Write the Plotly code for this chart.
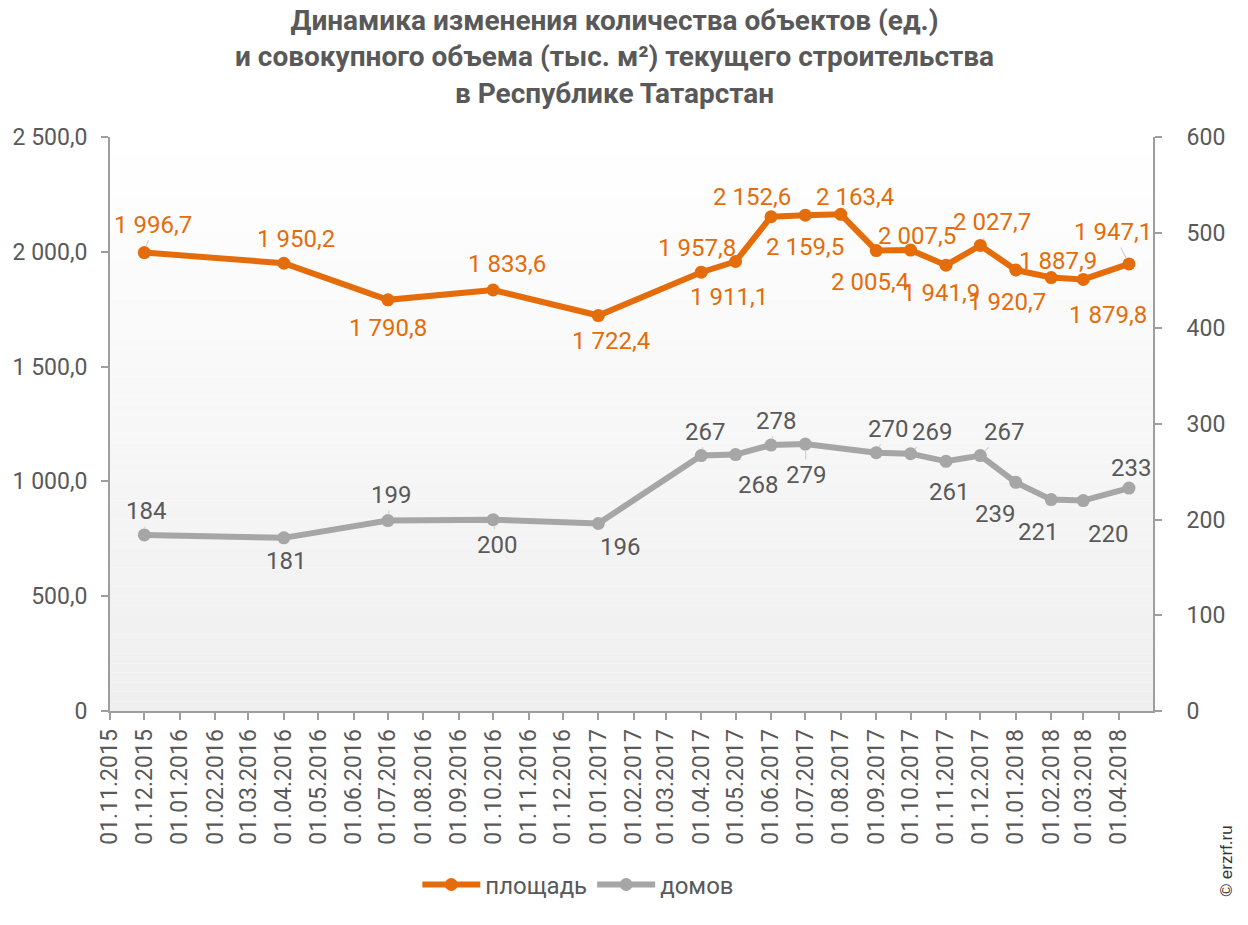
import plotly.graph_objects as go

# ---------------- data ----------------
dates = ["2015-12-01", "2016-04-01", "2016-07-01", "2016-10-01", "2017-01-01",
         "2017-04-01", "2017-05-01", "2017-06-01", "2017-07-01", "2017-08-01",
         "2017-09-01", "2017-10-01", "2017-11-01", "2017-12-01", "2018-01-01",
         "2018-02-01", "2018-03-01", "2018-04-10"]
area = [1996.7, 1950.2, 1790.8, 1833.6, 1722.4, 1911.1, 1957.8, 2152.6, 2159.5,
        2163.4, 2005.4, 2007.5, 1941.9, 2027.7, 1920.7, 1887.9, 1879.8, 1947.1]
houses = [184, 181, 199, 200, 196, 267, 268, 278, 279, None, 270, 269, 261, 267,
          239, 221, 220, 233]

x_tick_vals = ["2015-11-01", "2015-12-01", "2016-01-01", "2016-02-01", "2016-03-01",
               "2016-04-01", "2016-05-01", "2016-06-01", "2016-07-01", "2016-08-01",
               "2016-09-01", "2016-10-01", "2016-11-01", "2016-12-01", "2017-01-01",
               "2017-02-01", "2017-03-01", "2017-04-01", "2017-05-01", "2017-06-01",
               "2017-07-01", "2017-08-01", "2017-09-01", "2017-10-01", "2017-11-01",
               "2017-12-01", "2018-01-01", "2018-02-01", "2018-03-01", "2018-04-01"]
x_tick_text = [f"{d[8:10]}.{d[5:7]}.{d[0:4]}" for d in x_tick_vals]

left_tick_vals = [0, 500, 1000, 1500, 2000, 2500]
left_tick_text = ["0", "500,0", "1 000,0", "1 500,0", "2 000,0", "2 500,0"]
right_tick_vals = [0, 100, 200, 300, 400, 500, 600]

title_text = ("<b>Динамика изменения количества объектов (ед.)<br>"
              "и совокупного объема (тыс. м²) текущего строительства<br>"
              "в Республике Татарстан</b>")

# ---------------- styles ----------------
ORANGE = "#E46C0A"
GREY_LINE = "#A6A6A6"
TEXT = "#595959"
AXIS = "#9E9E9E"
LEADER = "#D0D0D0"
FONT = "Roboto"

# label offsets in pixels (dx, dy) and whether a leader line is drawn
area_off = [(9, -28, 1), (12, -24, 0), (0, 28, 0), (14, -26, 0), (13, 25, 0),
            (28, 25, 0), (-39, -13, 0), (-19, -20, 0), (0, 32, 0), (14, -17, 0),
            (-6, 31, 0), (6, -14, 0), (-5, 28, 0), (12, -23, 1), (-9, 32, 0),
            (7, -17, 0), (25, 36, 0), (-16, -32, 1)]
house_off = [(2, -24, 1), (2, 23, 0), (3, -26, 1), (4, 25, 1), (22, 24, 0),
             (4, -24, 1), (22, 30, 0), (5, -24, 1), (1, 31, 1), None,
             (12, -24, 1), (21, -22, 1), (3, 31, 0), (24, -24, 1), (-21, 32, 0),
             (-13, 32, 0), (25, 33, 0), (2, -20, 0)]


def fmt_area(v):
    return f"{v:,.1f}".replace(",", " ").replace(".", ",")


fig = go.Figure()

fig.add_trace(go.Scatter(
    x=dates, y=area, name="площадь", mode="lines+markers",
    line=dict(color=ORANGE, width=6), marker=dict(color=ORANGE, size=13),
    yaxis="y", hoverinfo="skip"))

fig.add_trace(go.Scatter(
    x=dates, y=houses, name="домов", mode="lines+markers", connectgaps=True,
    line=dict(color=GREY_LINE, width=6), marker=dict(color=GREY_LINE, size=13),
    yaxis="y2", hoverinfo="skip"))

annotations = []
for d, v, off in zip(dates, area, area_off):
    dx, dy, lead = off
    annotations.append(dict(
        x=d, y=v, xref="x", yref="y", text=fmt_area(v), showarrow=True,
        ax=dx, ay=dy, arrowhead=0, arrowwidth=1.2, standoff=6,
        arrowcolor=LEADER if lead else "rgba(0,0,0,0)",
        font=dict(family=FONT, size=24, color=ORANGE)))

for d, v, off in zip(dates, houses, house_off):
    if v is None:
        continue
    dx, dy, lead = off
    annotations.append(dict(
        x=d, y=v, xref="x", yref="y2", text=str(v), showarrow=True,
        ax=dx, ay=dy, arrowhead=0, arrowwidth=1.2, standoff=6,
        arrowcolor=LEADER if lead else "rgba(0,0,0,0)",
        font=dict(family=FONT, size=24, color=TEXT)))

# title
annotations.append(dict(
    text=title_text, xref="paper", yref="paper", x=0.484, y=1.2345,
    showarrow=False, xanchor="center", yanchor="top", align="center",
    font=dict(family=FONT, size=28, color=TEXT)))

# watermark
annotations.append(dict(
    text="© erzrf.ru", xref="paper", yref="paper", x=1.070, y=-0.262,
    showarrow=False, textangle=-90, xanchor="center", yanchor="middle",
    font=dict(family="Liberation Sans", size=17, color="#333333")))

# gradient background for plot area
shapes = []
n = 60
for i in range(n):
    t = i / (n - 1)
    c = int(round(255 - (255 - 239) * t))
    shapes.append(dict(
        type="rect", xref="paper", yref="paper", x0=0, x1=1,
        y0=1 - (i + 1) / n, y1=1 - i / n, layer="below",
        line=dict(width=0), fillcolor=f"rgb({c},{c},{c})"))

fig.update_layout(
    width=1248, height=925,
    margin=dict(l=102, r=103, t=129, b=222, autoexpand=False),
    paper_bgcolor="white", plot_bgcolor="rgba(0,0,0,0)",
    font=dict(family=FONT, size=24, color=TEXT),
    xaxis=dict(
        type="date", range=["2015-11-01", "2018-05-01"], automargin=False,
        tickvals=x_tick_vals, ticktext=x_tick_text, tickangle=-90,
        showgrid=False, zeroline=False, showline=True, linecolor=AXIS, linewidth=2,
        ticks="outside", ticklen=7, tickwidth=2, tickcolor=AXIS,
        tickfont=dict(family=FONT, size=23, color=TEXT)),
    yaxis=dict(
        range=[0, 2500], tickvals=left_tick_vals, ticktext=left_tick_text,
        automargin=False,
        showgrid=False, zeroline=False, showline=True, linecolor=AXIS, linewidth=2,
        ticks="outside", ticklen=7, tickwidth=2, tickcolor=AXIS,
        ticklabelstandoff=9,
        tickfont=dict(family=FONT, size=23, color=TEXT)),
    yaxis2=dict(
        range=[0, 600], tickvals=right_tick_vals, overlaying="y", side="right",
        automargin=False,
        showgrid=False, zeroline=False, showline=True, linecolor=AXIS, linewidth=2,
        ticks="outside", ticklen=7, tickwidth=2, tickcolor=AXIS,
        ticklabelstandoff=20,
        tickfont=dict(family=FONT, size=23, color=TEXT)),
    legend=dict(
        orientation="h", x=0.449, xanchor="center", y=-0.303, yanchor="middle",
        font=dict(family=FONT, size=24, color=TEXT), bgcolor="rgba(0,0,0,0)",
        itemwidth=58),
    annotations=annotations, shapes=shapes, showlegend=True,
)

fig.write_html("out.html")
